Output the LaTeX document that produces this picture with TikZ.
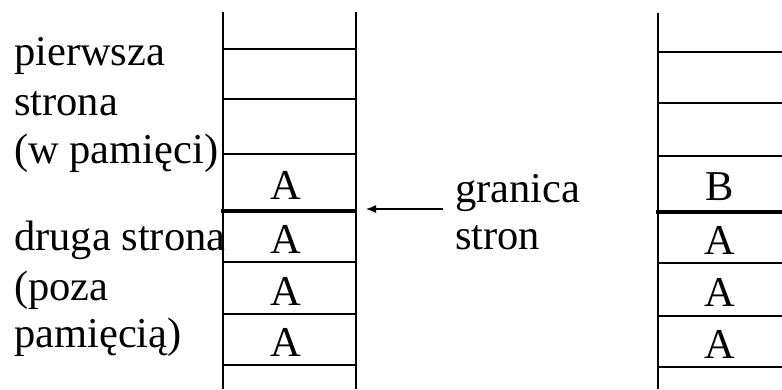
\documentclass[tikz,border=0pt]{standalone}
\usepackage{fontspec}
\setmainfont{Liberation Serif}
\usetikzlibrary{arrows.meta}
\begin{document}
\begin{tikzpicture}[x=1pt,y=-1pt,
  txt/.style={inner sep=0pt,font=\fontsize{42.5}{49}\selectfont},
  lbl/.style={txt,anchor=base west},
  cell/.style={txt,anchor=center},
  thin/.style={line width=2pt},
  thick/.style={line width=4pt},
  pointer/.style={line width=1.3pt,-{Latex[length=10pt,width=8pt]}}]
\useasboundingbox (0,0) rectangle (782,389);
% left column
\draw[thin] (222.5,12) -- (222.5,389);
\draw[thin] (355.5,12) -- (355.5,389);
\foreach \yy in {49,99,154,262,314,365}
  \draw[thin] (222.5,\yy) -- (355.5,\yy);
\draw[thick] (221,211) -- (357,211);
\node[cell] (la1) at (286,185) {A};
\node[cell] (la2) at (286,239) {A};
\node[cell] (la3) at (286,291) {A};
\node[cell] (la4) at (286,342) {A};
% right column
\draw[thin] (658,13) -- (658,389);
\foreach \yy in {52,103,156,263,316,367}
  \draw[thin] (658,\yy) -- (782,\yy);
\draw[thick] (656,212) -- (782,212);
\node[cell] (rb1) at (720,187) {B};
\node[cell] (ra2) at (720,240) {A};
\node[cell] (ra3) at (720,292) {A};
\node[cell] (ra4) at (720,344) {A};
% left labels
\node[lbl] (t1) at (14,65) {pierwsza};
\node[lbl] (t2) at (14,115) {strona};
\node[lbl] (t3) at (14,163) {(w pamięci)};
\node[lbl] (t4) at (14,250) {druga strona};
\node[lbl] (t5) at (14,300) {(poza};
\node[lbl] (t6) at (14,347) {pamięcią)};
% boundary label and arrow
\node[lbl] (g1) at (455,202) {granica};
\node[lbl] (g2) at (455,249) {stron};
\coordinate (arrS) at (443,209);
\coordinate (arrE) at (366,209);
\draw[pointer] (arrS) -- (arrE);
\end{tikzpicture}
\end{document}
